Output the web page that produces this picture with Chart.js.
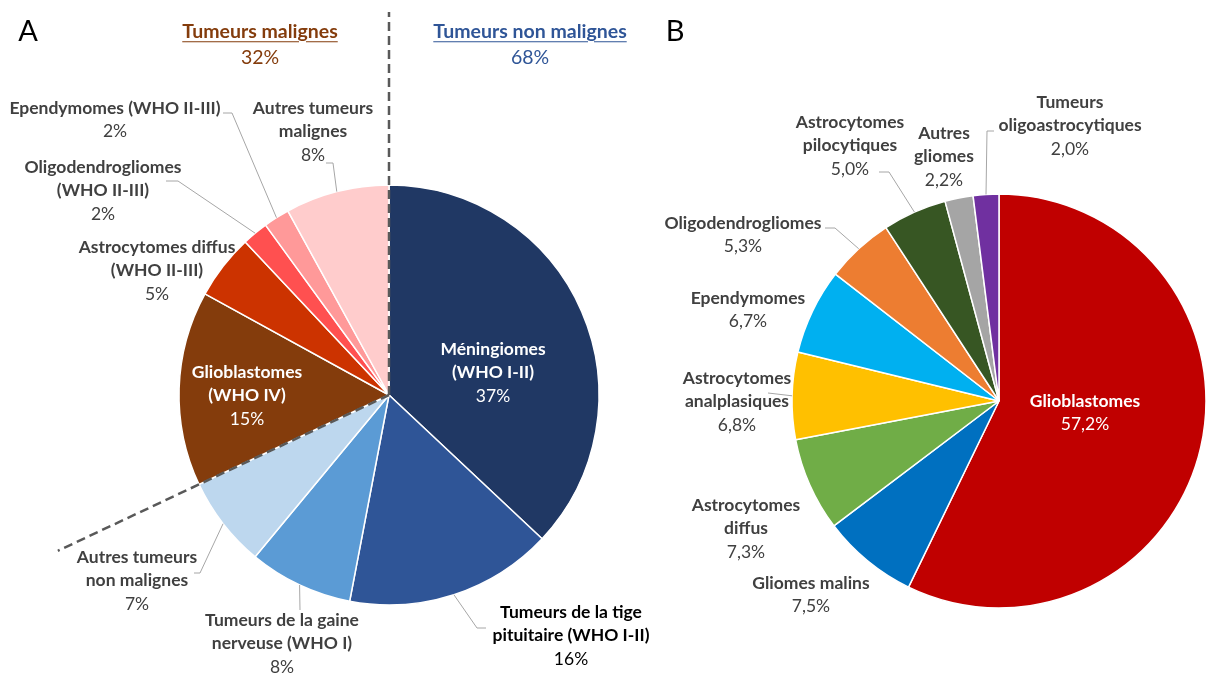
<!DOCTYPE html>
<html lang="fr">
<head>
<meta charset="utf-8">
<title>Répartition des tumeurs cérébrales</title>
<script src="https://cdn.jsdelivr.net/npm/chart.js@4"></script>
<style>
  html, body { margin: 0; padding: 0; background: #fff; }
  #wrap { position: relative; width: 1206px; height: 673px; overflow: hidden; font-family: Lato, 'Open Sans', sans-serif; }
  #wrap canvas { position: absolute; left: 0; top: 0; }
  .tag { position: absolute; transform: translate(-50%, -50%); white-space: nowrap; line-height: 1; }
  .panel { font-size: 29px; color: #000; }
  .group { font-size: 19.5px; font-weight: bold; text-decoration: underline; text-underline-offset: 3px; }
  .share { font-size: 19.5px; }
</style>
</head>
<body>
<div id="wrap">
  <canvas id="pieA" width="1206" height="673"></canvas>
  <canvas id="pieB" width="1206" height="673"></canvas>
  <div class="tag panel" style="left:28px;top:29px">A</div>
  <div class="tag panel" style="left:675px;top:29px">B</div>
  <div class="tag group" style="left:260px;top:31px;color:#843C0C">Tumeurs malignes</div>
  <div class="tag share" id="malShare" style="left:260px;top:57px;color:#843C0C"></div>
  <div class="tag group" style="left:530px;top:31px;color:#2F5597">Tumeurs non malignes</div>
  <div class="tag share" id="benShare" style="left:530px;top:57px;color:#2F5597"></div>
</div>
<script>
// A: all primary brain tumours (%)
const categoriesA = [
    ['Méningiomes', '(WHO I-II)'],
    ['Tumeurs de la tige', 'pituitaire (WHO I-II)'],
    ['Tumeurs de la gaine', 'nerveuse (WHO I)'],
    ['Autres tumeurs', 'non malignes'],
    ['Glioblastomes', '(WHO IV)'],
    ['Astrocytomes diffus', '(WHO II-III)'],
    ['Oligodendrogliomes', '(WHO II-III)'],
    ['Ependymomes (WHO II-III)'],
    ['Autres tumeurs', 'malignes']
];
const valuesA = [37, 16, 8, 7, 15, 5, 2, 2, 8];
const malignantA = [false, false, false, false, true, true, true, true, true];
const coloursA = ['#203864', '#2F5597', '#5B9BD5', '#BDD7EE', '#843C0C', '#CC3300', '#FF5050', '#FF9999', '#FFCCCC'];

// B: gliomas (%)
const categoriesB = [
    ['Glioblastomes'],
    ['Gliomes malins'],
    ['Astrocytomes', 'diffus'],
    ['Astrocytomes', 'analplasiques'],
    ['Ependymomes'],
    ['Oligodendrogliomes'],
    ['Astrocytomes', 'pilocytiques'],
    ['Autres', 'gliomes'],
    ['Tumeurs', 'oligoastrocytiques']
];
const valuesB = [57.2, 7.5, 7.3, 6.8, 6.7, 5.3, 5.0, 2.2, 2.0];
const coloursB = ['#C00000', '#0070C0', '#70AD47', '#FFC000', '#00B0F0', '#ED7D31', '#375623', '#A5A5A5', '#7030A0'];

// where each slice label sits (centre x, first line y) and the bends of its leader line
const labelLayoutA = [
    { x: 493, y: 349, color: '#FFFFFF' },
    { x: 571, y: 612, color: '#000000', leader: [[477, 628], [486, 628]] },
    { x: 282, y: 620, leader: [[300, 610]] },
    { x: 137, y: 557, leader: [[200, 573], [194, 573]] },
    { x: 247, y: 372, color: '#FFFFFF' },
    { x: 157, y: 247 },
    { x: 103, y: 167, leader: [[178, 181], [166, 181]] },
    { x: 115, y: 108, leader: [[232, 113], [223, 113]] },
    { x: 313, y: 108, leader: [[333, 163], [326, 163]] }
];
const labelLayoutB = [
    { x: 1085, y: 401, color: '#FFFFFF' },
    { x: 811, y: 583 },
    { x: 746, y: 505 },
    { x: 737, y: 378, leader: [[768, 393]] },
    { x: 748, y: 298 },
    { x: 743, y: 223, leader: [[835, 228], [825, 228]] },
    { x: 850, y: 122, leader: [[889, 172], [879, 172]] },
    { x: 944, y: 133 },
    { x: 1070, y: 102, leader: [[987, 131], [994, 131]] }
];

// names in bold, value underneath, optional grey leader from the slice edge
const sliceLabels = {
    id: 'sliceLabels',
    afterDatasetsDraw(chart, args, opts) {
        const ctx = chart.ctx;
        const meta = chart.getDatasetMeta(0);
        const names = chart.data.labels;
        const values = chart.data.datasets[0].data;
        ctx.save();

        // dashed dividers between the two groups of slices
        (opts.dividers || []).forEach(d => {
            const arc = meta.data[d.index];
            const a = arc.startAngle;
            ctx.beginPath();
            ctx.setLineDash([9, 5]);
            ctx.strokeStyle = '#595959';
            ctx.lineWidth = 2.5;
            ctx.moveTo(arc.x, arc.y);
            ctx.lineTo(arc.x + Math.cos(a) * d.length, arc.y + Math.sin(a) * d.length);
            ctx.stroke();
        });
        ctx.setLineDash([]);

        opts.layout.forEach((l, i) => {
            const arc = meta.data[i];
            if (l.leader) {
                const mid = (arc.startAngle + arc.endAngle) / 2;
                ctx.beginPath();
                ctx.moveTo(arc.x + Math.cos(mid) * arc.outerRadius, arc.y + Math.sin(mid) * arc.outerRadius);
                l.leader.forEach(p => ctx.lineTo(p[0], p[1]));
                ctx.strokeStyle = '#A6A6A6';
                ctx.lineWidth = 1;
                ctx.stroke();
            }
            ctx.fillStyle = l.color || '#404040';
            ctx.textAlign = 'center';
            ctx.textBaseline = 'middle';
            let y = l.y;
            ctx.font = 'bold 17.5px Lato, sans-serif';
            [].concat(names[i]).forEach(s => {
                ctx.fillText(s, l.x, y);
                y += opts.lineStep;
            });
            ctx.font = '17.5px Lato, sans-serif';
            ctx.fillText(opts.format(values[i]), l.x, y);
        });
        ctx.restore();
    }
};

const pctInt = v => `${v}%`;
const pctFr = v => `${v.toFixed(1).replace('.', ',')}%`;

function makePie(id, labels, values, colours, radius, padding, labelOpts) {
    return new Chart(document.getElementById(id), {
        type: 'pie',
        data: {
            labels: labels,
            datasets: [{
                data: values,
                backgroundColor: colours,
                borderColor: '#FFFFFF',
                borderWidth: 1.5
            }]
        },
        options: {
            responsive: false,
            animation: false,
            radius: radius,
            layout: { padding: padding },
            plugins: {
                legend: { display: false },
                tooltip: { enabled: false },
                sliceLabels: labelOpts
            }
        },
        plugins: [sliceLabels]
    });
}

makePie('pieA', categoriesA, valuesA, coloursA, 210,
    { left: 0, right: 428, top: 117, bottom: 0 },
    { layout: labelLayoutA, lineStep: 23.5, format: pctInt,
      dividers: [{ index: 0, length: 383 }, { index: 4, length: 366 }] });

makePie('pieB', categoriesB, valuesB, coloursB, 207,
    { left: 792, right: 0, top: 129, bottom: 0 },
    { layout: labelLayoutB, lineStep: 23.5, format: pctFr });

// group totals for chart A
const sumA = flag => valuesA.reduce((s, v, i) => s + (malignantA[i] === flag ? v : 0), 0);
document.getElementById('malShare').textContent = `${sumA(true)}%`;
document.getElementById('benShare').textContent = `${sumA(false)}%`;
</script>
</body>
</html>
